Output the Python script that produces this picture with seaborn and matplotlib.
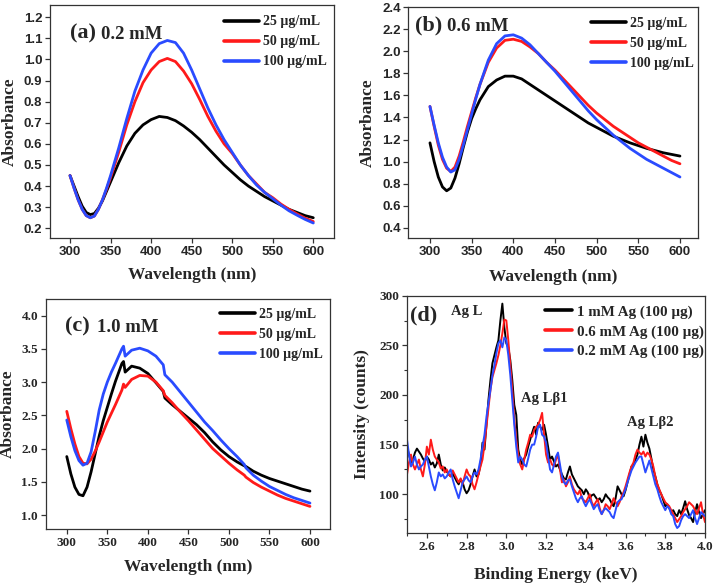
import numpy as np
import pandas as pd
import matplotlib
matplotlib.use("Agg")
import matplotlib.pyplot as plt
import seaborn as sns
from matplotlib.ticker import MultipleLocator
from matplotlib.font_manager import FontProperties

# ---------------- data ----------------
wl_ab = [300, 305, 310, 315, 320, 325, 330, 335, 340, 345, 350, 355, 360, 370, 380, 390, 400,
         410, 420, 430, 440, 450, 460, 470, 480, 490, 500, 510, 520, 530, 540, 550, 560, 570,
         580, 590, 600]

a_25 = [0.45, 0.40, 0.35, 0.305, 0.275, 0.265, 0.27, 0.295, 0.33, 0.375, 0.42, 0.465, 0.51,
        0.59, 0.65, 0.69, 0.715, 0.73, 0.725, 0.71, 0.685, 0.655, 0.62, 0.58, 0.54, 0.50,
        0.465, 0.43, 0.40, 0.375, 0.35, 0.33, 0.31, 0.29, 0.275, 0.26, 0.25]
a_50 = [0.45, 0.39, 0.335, 0.29, 0.26, 0.25, 0.258, 0.29, 0.335, 0.385, 0.44, 0.50, 0.56,
        0.69, 0.80, 0.89, 0.95, 0.99, 1.005, 0.99, 0.945, 0.885, 0.81, 0.73, 0.66, 0.60,
        0.555, 0.50, 0.45, 0.41, 0.37, 0.345, 0.315, 0.29, 0.268, 0.248, 0.232]
a_100 = [0.45, 0.39, 0.335, 0.29, 0.26, 0.25, 0.258, 0.29, 0.335, 0.39, 0.45, 0.515, 0.58,
         0.72, 0.85, 0.95, 1.03, 1.075, 1.09, 1.08, 1.03, 0.95, 0.86, 0.77, 0.69, 0.62,
         0.56, 0.50, 0.45, 0.405, 0.37, 0.34, 0.31, 0.283, 0.262, 0.242, 0.225]

b_25 = [1.17, 1.00, 0.86, 0.77, 0.735, 0.76, 0.85, 0.98, 1.13, 1.27, 1.39, 1.48, 1.56,
        1.68, 1.74, 1.775, 1.775, 1.75, 1.70, 1.65, 1.60, 1.55, 1.50, 1.45, 1.40, 1.35,
        1.31, 1.27, 1.23, 1.20, 1.17, 1.145, 1.12, 1.10, 1.08, 1.065, 1.05]
b_50 = [1.50, 1.32, 1.15, 1.02, 0.94, 0.91, 0.95, 1.05, 1.18, 1.32, 1.45, 1.58, 1.70,
        1.90, 2.03, 2.10, 2.11, 2.09, 2.04, 1.98, 1.90, 1.83, 1.75, 1.67, 1.59, 1.51,
        1.44, 1.38, 1.32, 1.27, 1.22, 1.17, 1.13, 1.09, 1.05, 1.01, 0.98]
b_100 = [1.50, 1.33, 1.17, 1.04, 0.95, 0.905, 0.925, 1.02, 1.15, 1.29, 1.43, 1.57, 1.70,
         1.92, 2.07, 2.14, 2.15, 2.12, 2.06, 1.98, 1.90, 1.82, 1.73, 1.64, 1.55, 1.46,
         1.38, 1.31, 1.24, 1.18, 1.12, 1.07, 1.02, 0.98, 0.94, 0.90, 0.86]

wl_c = [300, 305, 310, 315, 320, 325, 330, 335, 340, 345, 350, 355, 360, 368, 370, 372, 380,
        390, 400, 410, 419, 421, 430, 440, 450, 460, 470, 480, 490, 500, 510, 519, 521, 530,
        540, 550, 560, 570, 580, 590, 600]
c_25 = [1.88, 1.62, 1.42, 1.31, 1.29, 1.42, 1.65, 1.92, 2.19, 2.42, 2.62, 2.82, 3.01, 3.28,
        3.31, 3.15, 3.24, 3.21, 3.13, 2.99, 2.86, 2.76, 2.66, 2.56, 2.46, 2.36, 2.24, 2.10,
        1.98, 1.88, 1.80, 1.74, 1.73, 1.66, 1.60, 1.55, 1.51, 1.47, 1.43, 1.39, 1.36]
c_50 = [2.56, 2.30, 2.07, 1.88, 1.78, 1.77, 1.84, 1.96, 2.10, 2.25, 2.40, 2.53, 2.66, 2.88,
        2.97, 2.92, 3.04, 3.10, 3.09, 3.00, 2.87, 2.80, 2.69, 2.55, 2.42, 2.28, 2.14, 2.00,
        1.89, 1.78, 1.68, 1.60, 1.57, 1.49, 1.42, 1.36, 1.30, 1.25, 1.21, 1.17, 1.13]
c_100 = [2.43, 2.18, 1.97, 1.82, 1.75, 1.78, 1.95, 2.25, 2.58, 2.82, 3.00, 3.15, 3.28, 3.50,
         3.54, 3.39, 3.48, 3.51, 3.47, 3.39, 3.26, 3.11, 3.00, 2.85, 2.70, 2.55, 2.40, 2.27,
         2.13, 2.00, 1.88, 1.76, 1.71, 1.60, 1.51, 1.43, 1.37, 1.31, 1.26, 1.22, 1.18]

energy = np.round(np.arange(2.50, 4.005, 0.01), 2)
d_1mM = [148, 140, 132, 135, 142, 146, 143, 140, 136, 133,
         138, 135, 130, 132, 127, 131, 140, 130, 124, 127,
         123, 120, 118, 121, 117, 113, 110, 115, 112, 105,
         101, 104, 110, 118, 125, 118, 120, 130, 152, 145,
         170, 195, 215, 232, 240, 248, 255, 275, 292, 268,
         252, 248, 235, 215, 190, 180, 145, 135, 130, 136,
         140, 148, 155, 162, 168, 160, 172, 168, 165, 170,
         160, 148, 135, 138, 133, 128, 130, 125, 120, 116,
         115, 122, 128, 120, 116, 112, 108, 106, 104, 100,
         105, 102, 96, 99, 100, 97, 94, 96, 92, 95,
         100, 97, 95, 91, 88, 96, 108, 104, 100, 98,
         104, 112, 120, 128, 130, 135, 140, 150, 158, 148,
         160, 152, 146, 136, 125, 118, 110, 104, 100, 94,
         88, 90, 86, 82, 84, 80, 78, 84, 80, 86,
         93, 85, 79, 76, 72, 82, 90, 82, 76, 80,
         84]
d_06mM = [120, 132, 140, 130, 125, 130, 135, 125, 118, 130,
          148, 140, 155, 145, 138, 135, 132, 126, 128, 122,
          125, 120, 118, 124, 120, 116, 112, 116, 110, 118,
          125, 120, 118, 110, 105, 112, 120, 128, 135, 150,
          168, 185, 205, 218, 225, 232, 240, 250, 262, 276,
          275, 255, 230, 205, 175, 155, 140, 130, 125, 135,
          145, 152, 160, 158, 165, 168, 170, 175, 182, 160,
          140, 132, 135, 130, 128, 135, 140, 125, 112, 115,
          108, 112, 118, 110, 105, 102, 100, 104, 96, 94,
          92, 96, 100, 92, 88, 92, 95, 86, 80, 84,
          90, 88, 85, 90, 96, 92, 88, 92, 98, 102,
          108, 115, 122, 128, 132, 140, 145, 142, 140, 143,
          138, 142, 140, 135, 128, 118, 110, 105, 100, 96,
          92, 90, 88, 84, 80, 76, 72, 75, 78, 82,
          85, 88, 92, 90, 88, 84, 80, 86, 92, 80,
          72]
d_02mM = [155, 140, 128, 132, 138, 130, 125, 128, 130, 135,
          138, 128, 118, 110, 104, 112, 122, 118, 120, 116,
          118, 122, 125, 115, 108, 102, 96, 104, 112, 115,
          118, 114, 112, 118, 122, 120, 125, 135, 148, 160,
          178, 192, 205, 220, 230, 242, 252, 255, 248, 258,
          255, 240, 220, 195, 170, 148, 132, 138, 135, 130,
          128, 136, 145, 150, 150, 158, 168, 170, 160, 158,
          152, 138, 125, 122, 130, 138, 142, 130, 118, 112,
          110, 114, 115, 108, 102, 96, 92, 96, 98, 92,
          88, 92, 95, 90, 85, 88, 90, 84, 80, 84,
          86, 84, 82, 78, 76, 84, 92, 94, 95, 100,
          105, 112, 118, 124, 128, 132, 135, 138, 138, 130,
          122, 128, 134, 126, 118, 110, 105, 98, 92, 88,
          84, 88, 86, 80, 78, 70, 66, 68, 74, 78,
          80, 78, 76, 80, 84, 76, 70, 76, 82, 80,
          78]

conc_labels = ["25 \u00b5g/mL", "50 \u00b5g/mL", "100 \u00b5g/mL"]
d_labels = ["1 mM Ag (100 \u00b5g)", "0.6 mM Ag (100 \u00b5g)", "0.2 mM Ag (100 \u00b5g)"]
colors = ["#000000", "#ff1a1a", "#2a4bff"]

# ---------------- style ----------------
sns.set_style("ticks")
plt.rcParams["font.family"] = ["Liberation Serif", "DejaVu Serif"]
plt.rcParams["font.weight"] = "bold"

SERIF = "Liberation Serif"
SANS = "Liberation Sans"

fig = plt.figure(figsize=(7.15, 5.86), dpi=100)
ax_a = fig.add_axes([50 / 715, 1 - 238.3 / 586, 284.3 / 715, 233.3 / 586])
ax_b = fig.add_axes([408.3 / 715, 1 - 238.3 / 586, 290 / 715, 231.6 / 586])
ax_c = fig.add_axes([45.7 / 715, 1 - 529 / 586, 284.3 / 715, 230 / 586])
ax_d = fig.add_axes([407 / 715, 1 - 533.3 / 586, 298 / 715, 237.6 / 586])


def draw(ax, x, ys, labels, lw=2.0):
    for y, lab, col in zip(ys, labels, colors):
        df = pd.DataFrame({"x": list(x), "y": y})
        sns.lineplot(data=df, x="x", y="y", ax=ax, color=col, lw=lw, label=lab, sort=False)


def style_axes(ax, tickfont, fs=9.5):
    for s in ax.spines.values():
        s.set_visible(True)
        s.set_linewidth(0.9)
        s.set_color("#333333")
    ax.tick_params(direction="out", length=3.5, width=0.9, color="#333333",
                   top=False, right=False, pad=2)
    for lab in ax.get_xticklabels() + ax.get_yticklabels():
        lab.set_fontfamily(tickfont)
        lab.set_fontweight("bold")
        lab.set_fontsize(fs)


def legend(ax, anchor, hl=2.5, ls=0.5, fs=10):
    leg = ax.legend(loc="upper right", bbox_to_anchor=anchor, frameon=False,
                    handlelength=hl, handletextpad=0.3, labelspacing=ls,
                    borderaxespad=0, borderpad=0,
                    prop=FontProperties(family=SERIF, weight="bold", size=fs))
    for h in leg.get_lines():
        h.set_linewidth(2.6)
    return leg


def panel_title(ax, tag, conc, x_tag, x_conc, y):
    ax.text(x_tag, y, tag, transform=ax.transAxes, fontsize=16, fontweight="bold",
            family=SERIF, va="center")
    if conc:
        ax.text(x_conc, y - 0.005, conc, transform=ax.transAxes, fontsize=13.5,
                fontweight="bold", family=SERIF, va="center")


# (a)
draw(ax_a, wl_ab, [a_25, a_50, a_100], conc_labels)
ax_a.set_xlim(275.3, 625.9)
ax_a.set_ylim(0.1526, 1.258)
ax_a.xaxis.set_major_locator(MultipleLocator(50))
ax_a.set_yticks(np.round(np.arange(0.2, 1.21, 0.1), 1))
ax_a.set_yticklabels([f"{v:.1f}" for v in np.arange(0.2, 1.21, 0.1)])
style_axes(ax_a, SANS)
legend(ax_a, (0.975, 0.955))
panel_title(ax_a, "(a)", "0.2 mM", 0.07, 0.18, 0.88)

# (b)
draw(ax_b, wl_ab, [b_25, b_50, b_100], conc_labels)
ax_b.set_xlim(274, 622)
ax_b.set_ylim(0.304, 2.405)
ax_b.xaxis.set_major_locator(MultipleLocator(50))
ax_b.set_yticks(np.round(np.arange(0.4, 2.41, 0.2), 1))
ax_b.set_yticklabels([f"{v:.1f}" for v in np.arange(0.4, 2.41, 0.2)])
style_axes(ax_b, SANS)
legend(ax_b, (0.985, 0.955))
panel_title(ax_b, "(b)", "0.6 mM", 0.024, 0.134, 0.921)

# (c)
draw(ax_c, wl_c, [c_25, c_50, c_100], conc_labels)
ax_c.set_xlim(274, 624.7)
ax_c.set_ylim(0.79, 4.25)
ax_c.xaxis.set_major_locator(MultipleLocator(50))
ax_c.set_yticks(np.round(np.arange(1.0, 4.01, 0.5), 1))
ax_c.set_yticklabels([f"{v:.1f}" for v in np.arange(1.0, 4.01, 0.5)])
style_axes(ax_c, SERIF)
legend(ax_c, (0.975, 0.96))
panel_title(ax_c, "(c)", "1.0 mM", 0.068, 0.18, 0.88)

# (d)
draw(ax_d, energy, [d_1mM, d_06mM, d_02mM], d_labels, lw=1.4)
ax_d.set_xlim(2.5, 4.0)
ax_d.set_ylim(60.7, 300)
ax_d.set_xticks(np.round(np.arange(2.6, 4.01, 0.2), 1))
ax_d.set_xticklabels([f"{v:.1f}" for v in np.arange(2.6, 4.01, 0.2)])
ax_d.xaxis.set_minor_locator(MultipleLocator(0.1))
ax_d.set_yticks([100, 150, 200, 250, 300])
ax_d.yaxis.set_minor_locator(MultipleLocator(25))
style_axes(ax_d, SERIF)
ax_d.tick_params(which="minor", direction="out", length=2.5, width=0.8, color="#333333")
legend(ax_d, (0.995, 0.96), hl=1.8, ls=0.4, fs=10.8)
panel_title(ax_d, "(d)", None, 0.01, 0, 0.915)
ax_d.text(2.72, 284, "Ag L", fontsize=10.5, fontweight="bold", family=SERIF, va="center")
ax_d.text(3.075, 196, "Ag L\u03b21", fontsize=10.5, fontweight="bold", family=SERIF,
          va="center")
ax_d.text(3.605, 172, "Ag L\u03b22", fontsize=10.5, fontweight="bold", family=SERIF,
          va="center")

# axis labels
for ax, xl, yl, xly, ylx in [
    (ax_a, "Wavelength (nm)", "Absorbance", -0.157, -0.14),
    (ax_b, "Wavelength (nm)", "Absorbance", -0.166, -0.138),
    (ax_c, "Wavelength (nm)", "Absorbance", -0.164, -0.133),
    (ax_d, "Binding Energy (keV)", "Intensity (counts)", -0.176, -0.151),
]:
    ax.set_xlabel(xl, fontsize=12.5, fontweight="bold", family=SERIF)
    ax.set_ylabel(yl, fontsize=12.5, fontweight="bold", family=SERIF)
    ax.xaxis.set_label_coords(0.5, xly)
    ax.yaxis.set_label_coords(ylx, 0.5)
    ax.xaxis.label.set_va("center")
    ax.yaxis.label.set_va("center")

fig.savefig("out.png", dpi=100, facecolor="white")
